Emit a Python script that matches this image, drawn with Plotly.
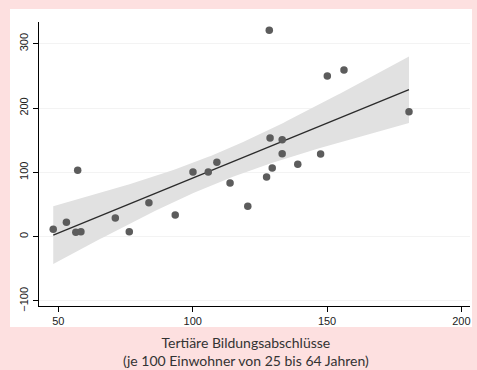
import numpy as np
import plotly.graph_objects as go

# Data
tertiary = [48.1, 53.0, 56.5, 58.4, 57.2, 71.2, 76.4, 83.7, 93.5, 100.1, 105.8,
            109.0, 113.9, 120.5, 128.5, 150.1, 156.3, 180.5, 128.8, 133.3, 133.3,
            129.6, 127.5, 139.1, 147.6]
outcome = [11.5, 22.4, 6.8, 7.8, 103.3, 29.1, 7.8, 52.9, 33.7, 100.6, 100.6,
           115.7, 83.5, 47.3, 321.0, 250.0, 259.3, 194.4, 153.5, 150.9, 129.1,
           106.8, 92.8, 112.6, 128.6]

x_ticks = [50, 100, 150, 200]
y_ticks = [-100, 0, 100, 200, 300]
x_title = "Tertiäre Bildungsabschlüsse<br>(je 100 Einwohner von 25 bis 64 Jahren)"

# Linear fit with 95% confidence interval of the mean (as Stata lfitci)
x = np.array(tertiary)
y = np.array(outcome)
n = len(x)
b, a = np.polyfit(x, y, 1)
resid = y - (a + b * x)
s = np.sqrt(np.sum(resid ** 2) / (n - 2))
xbar = x.mean()
sxx = np.sum((x - xbar) ** 2)
xs = np.linspace(x.min(), x.max(), 100)
fit = a + b * xs
se = s * np.sqrt(1.0 / n + (xs - xbar) ** 2 / sxx)
tcrit = 2.069  # t(0.975, 23)
lo = fit - tcrit * se
hi = fit + tcrit * se

fig = go.Figure()
fig.add_trace(go.Scatter(
    x=np.concatenate([xs, xs[::-1]]), y=np.concatenate([hi, lo[::-1]]),
    fill="toself", fillcolor="#e1e1e1", line=dict(width=0),
    mode="lines", hoverinfo="skip", showlegend=False))
fig.add_trace(go.Scatter(x=xs, y=fit, mode="lines",
                         line=dict(color="#2b2b2b", width=1.3), showlegend=False))
fig.add_trace(go.Scatter(x=tertiary, y=outcome, mode="markers",
                         marker=dict(color="#5c5c5c", size=7.5, line=dict(width=0)),
                         showlegend=False))

# white plot panel behind everything
fig.add_shape(type="rect", xref="paper", yref="paper",
              x0=-0.0673, x1=1.0046, y0=-0.074, y1=1.046,
              fillcolor="white", line=dict(width=0), layer="below")

fig.update_layout(
    width=477, height=370,
    margin=dict(l=39, r=7, t=22, b=64),
    paper_bgcolor="#fde0e0", plot_bgcolor="white",
    font=dict(family="Liberation Sans, Arial, sans-serif", size=11, color="#222"),
    showlegend=False,
)
fig.update_xaxes(range=[42.8, 203.2], tickvals=x_ticks, ticks="outside", ticklen=5,
                 tickcolor="black", showline=True, linecolor="black", linewidth=1.3,
                 showgrid=False, zeroline=False, tickfont=dict(size=11))
fig.update_yaxes(range=[-107.8, 333.9], tickvals=y_ticks, ticks="outside", ticklen=5,
                 tickcolor="black", showline=True, linecolor="black", linewidth=1.3,
                 showgrid=True, gridcolor="#f3f3f3", gridwidth=1, zeroline=False,
                 tickangle=-90, tickfont=dict(size=11))

fig.add_annotation(text=x_title, xref="paper", yref="paper",
                   x=(246 - 39) / 431, y=(306 - 351) / 284, xanchor="center",
                   yanchor="middle", showarrow=False, align="center",
                   font=dict(family="Lato, sans-serif", size=14, color="#333"))

fig.write_html("out.html", config={"displayModeBar": False},
               post_script="document.body.style.margin='0';document.body.style.overflow='hidden';")
